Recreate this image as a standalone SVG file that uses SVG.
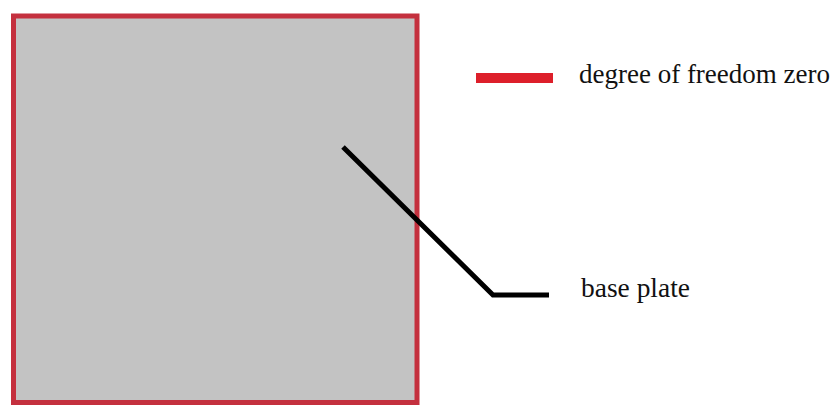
<svg xmlns="http://www.w3.org/2000/svg" width="838" height="408" viewBox="0 0 838 408">
  <style>
    .lbl { font-family: "Liberation Serif", "Times New Roman", serif; font-size: 27px; fill: #111; }
    .leader { fill: none; stroke: #000; stroke-width: 5; stroke-linejoin: miter; }
  </style>
  <rect x="0" y="0" width="838" height="408" fill="#ffffff"/>
  <g id="base-plate">
    <rect x="13.5" y="16" width="403.5" height="386.5" fill="#c3c3c3" stroke="#c4303e" stroke-width="5"/>
  </g>
  <g id="legend">
    <rect x="476" y="73" width="77" height="10" fill="#dd1f2a"/>
    <text class="lbl" x="579" y="83" textLength="251" lengthAdjust="spacingAndGlyphs">degree of freedom zero</text>
  </g>
  <g id="connectors">
    <polyline class="leader" points="343,147 493,295 549,295"/>
  </g>
  <g id="label-base-plate">
    <text class="lbl" x="581" y="297" textLength="109" lengthAdjust="spacingAndGlyphs">base plate</text>
  </g>
</svg>
